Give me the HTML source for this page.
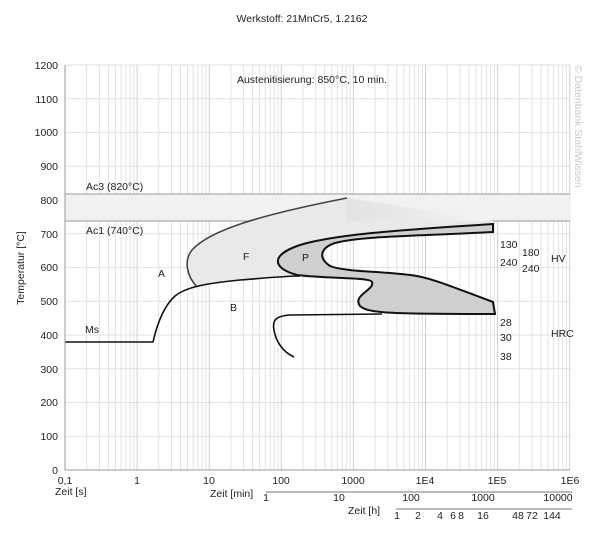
<!DOCTYPE html>
<html><head><meta charset="utf-8"><style>
body{margin:0;background:#fff}
text{font-family:"Liberation Sans",Arial,sans-serif;font-size:10.5px;fill:#222}
</style></head><body>
<svg width="605" height="536" viewBox="0 0 605 536" xmlns="http://www.w3.org/2000/svg">
<defs>
<g id="dec" stroke="#e2e2e2" stroke-width="1">
<line x1="21.7" y1="65" x2="21.7" y2="470"/><line x1="34.4" y1="65" x2="34.4" y2="470"/>
<line x1="43.4" y1="65" x2="43.4" y2="470"/><line x1="50.4" y1="65" x2="50.4" y2="470"/>
<line x1="56.1" y1="65" x2="56.1" y2="470"/><line x1="60.9" y1="65" x2="60.9" y2="470"/>
<line x1="65.1" y1="65" x2="65.1" y2="470"/><line x1="68.8" y1="65" x2="68.8" y2="470"/>
<line x1="72.1" y1="65" x2="72.1" y2="470" stroke="#d0d0d0"/>
</g>
<linearGradient id="tri" x1="0" x2="1" y1="0" y2="0"><stop offset="0" stop-color="#e2e2e2"/><stop offset="1" stop-color="#f3f3f3"/></linearGradient>
</defs>
<text x="302" y="22" text-anchor="middle">Werkstoff: 21MnCr5, 1.2162</text>
<g stroke="#e2e2e2">
<line x1="65" y1="65" x2="570" y2="65"/><line x1="65" y1="98.75" x2="570" y2="98.75"/>
<line x1="65" y1="132.5" x2="570" y2="132.5"/><line x1="65" y1="166.25" x2="570" y2="166.25"/>
<line x1="65" y1="200" x2="570" y2="200"/><line x1="65" y1="233.75" x2="570" y2="233.75"/>
<line x1="65" y1="267.5" x2="570" y2="267.5"/><line x1="65" y1="301.25" x2="570" y2="301.25"/>
<line x1="65" y1="335" x2="570" y2="335"/><line x1="65" y1="368.75" x2="570" y2="368.75"/>
<line x1="65" y1="402.5" x2="570" y2="402.5"/><line x1="65" y1="436.25" x2="570" y2="436.25"/>
</g>
<use href="#dec" x="65"/><use href="#dec" x="137.1"/><use href="#dec" x="209.2"/><use href="#dec" x="281.3"/>
<use href="#dec" x="353.4"/><use href="#dec" x="425.5"/><use href="#dec" x="497.6"/>
<rect x="65" y="194" width="505" height="27" fill="#f1f1f1"/>
<line x1="65" y1="194" x2="570" y2="194" stroke="#aaa" stroke-width="1.3"/>
<line x1="65" y1="221" x2="570" y2="221" stroke="#aaa" stroke-width="1.3"/>
<path d="M347,198 L493,221 L347,221 Z" fill="url(#tri)"/>
<!-- F region -->
<path d="M197,287 C186,275 184,260 192,250 C210,230 260,215 347,198 L347,221 L493,221 L493,225 C420,229 340,233 300,245 C270,255 272,268 297,275 C270,277 220,281 197,287 Z" fill="#e9e9e9"/>
<!-- P region -->
<path d="M493,224 C420,229 340,233 300,245 C270,255 272,268 297,275 C330,279 370,277 372,282 C375,290 352,295 360,306 C368,313 385,314 495,314 L493,302 C455,288 430,277 410,275 C380,271 345,272 330,266 C318,258 320,248 335,243 C360,236 420,236 493,232 Z" fill="#cfcfcf" stroke="#111" stroke-width="2"/>
<path d="M197,287 C186,275 184,260 192,250 C210,230 260,215 347,198" fill="none" stroke="#444" stroke-width="1.6"/>
<path d="M65,342 L153,342 C158,320 165,305 175,296 C185,288 200,284 240,280 C265,278 285,276 300,276" fill="none" stroke="#111" stroke-width="1.6"/>
<path d="M382,314 L290,315 C276,316 272,320 274,330 C276,342 283,352 294,357" fill="none" stroke="#111" stroke-width="1.6"/>
<line x1="65" y1="65" x2="65" y2="470" stroke="#999"/>
<line x1="65" y1="470" x2="570" y2="470" stroke="#999"/>
<g text-anchor="end">
<text x="58" y="69">1200</text><text x="58" y="103">1100</text><text x="58" y="136">1000</text>
<text x="58" y="170">900</text><text x="58" y="204">800</text><text x="58" y="238">700</text>
<text x="58" y="271">600</text><text x="58" y="305">500</text><text x="58" y="339">400</text>
<text x="58" y="373">300</text><text x="58" y="406">200</text><text x="58" y="440">100</text>
<text x="58" y="474">0</text>
</g>
<text transform="translate(24,268) rotate(-90)" text-anchor="middle">Temperatur [°C]</text>
<text x="575" y="65" transform="rotate(90 575 65)" style="fill:#c8c8c8">© Datenbank StahlWissen</text>
<text x="312" y="83" text-anchor="middle">Austenitisierung: 850°C, 10 min.</text>
<text x="86" y="190">Ac3 (820°C)</text><text x="86" y="234">Ac1 (740°C)</text>
<text x="85" y="333">Ms</text><text x="158" y="277">A</text><text x="230" y="311">B</text>
<text x="243" y="260">F</text><text x="302" y="261">P</text>
<text x="500" y="248">130</text><text x="522" y="256">180</text><text x="551" y="262">HV</text>
<text x="500" y="266">240</text><text x="522" y="272">240</text>
<text x="500" y="326">28</text><text x="500" y="341">30</text><text x="551" y="337">HRC</text><text x="500" y="360">38</text>
<g text-anchor="middle">
<text x="65" y="484">0,1</text><text x="137" y="484">1</text><text x="209" y="484">10</text>
<text x="281" y="484">100</text><text x="353" y="484">1000</text><text x="425" y="484">1E4</text>
<text x="497" y="484">1E5</text><text x="570" y="484">1E6</text>
</g>
<text x="55" y="495">Zeit [s]</text>
<line x1="266" y1="492" x2="572" y2="492" stroke="#777"/>
<text x="210" y="497">Zeit [min]</text>
<g text-anchor="middle">
<text x="266" y="501">1</text><text x="339" y="501">10</text><text x="411" y="501">100</text>
<text x="483" y="501">1000</text><text x="558" y="501">10000</text>
</g>
<line x1="396" y1="509" x2="572" y2="509" stroke="#777"/>
<text x="348" y="514">Zeit [h]</text>
<g text-anchor="middle">
<text x="397" y="519">1</text><text x="418" y="519">2</text><text x="440" y="519">4</text>
<text x="453" y="519">6</text><text x="461" y="519">8</text><text x="483" y="519">16</text>
<text x="518" y="519">48</text><text x="532" y="519">72</text><text x="552" y="519">144</text>
</g>
</svg>
</body></html>
